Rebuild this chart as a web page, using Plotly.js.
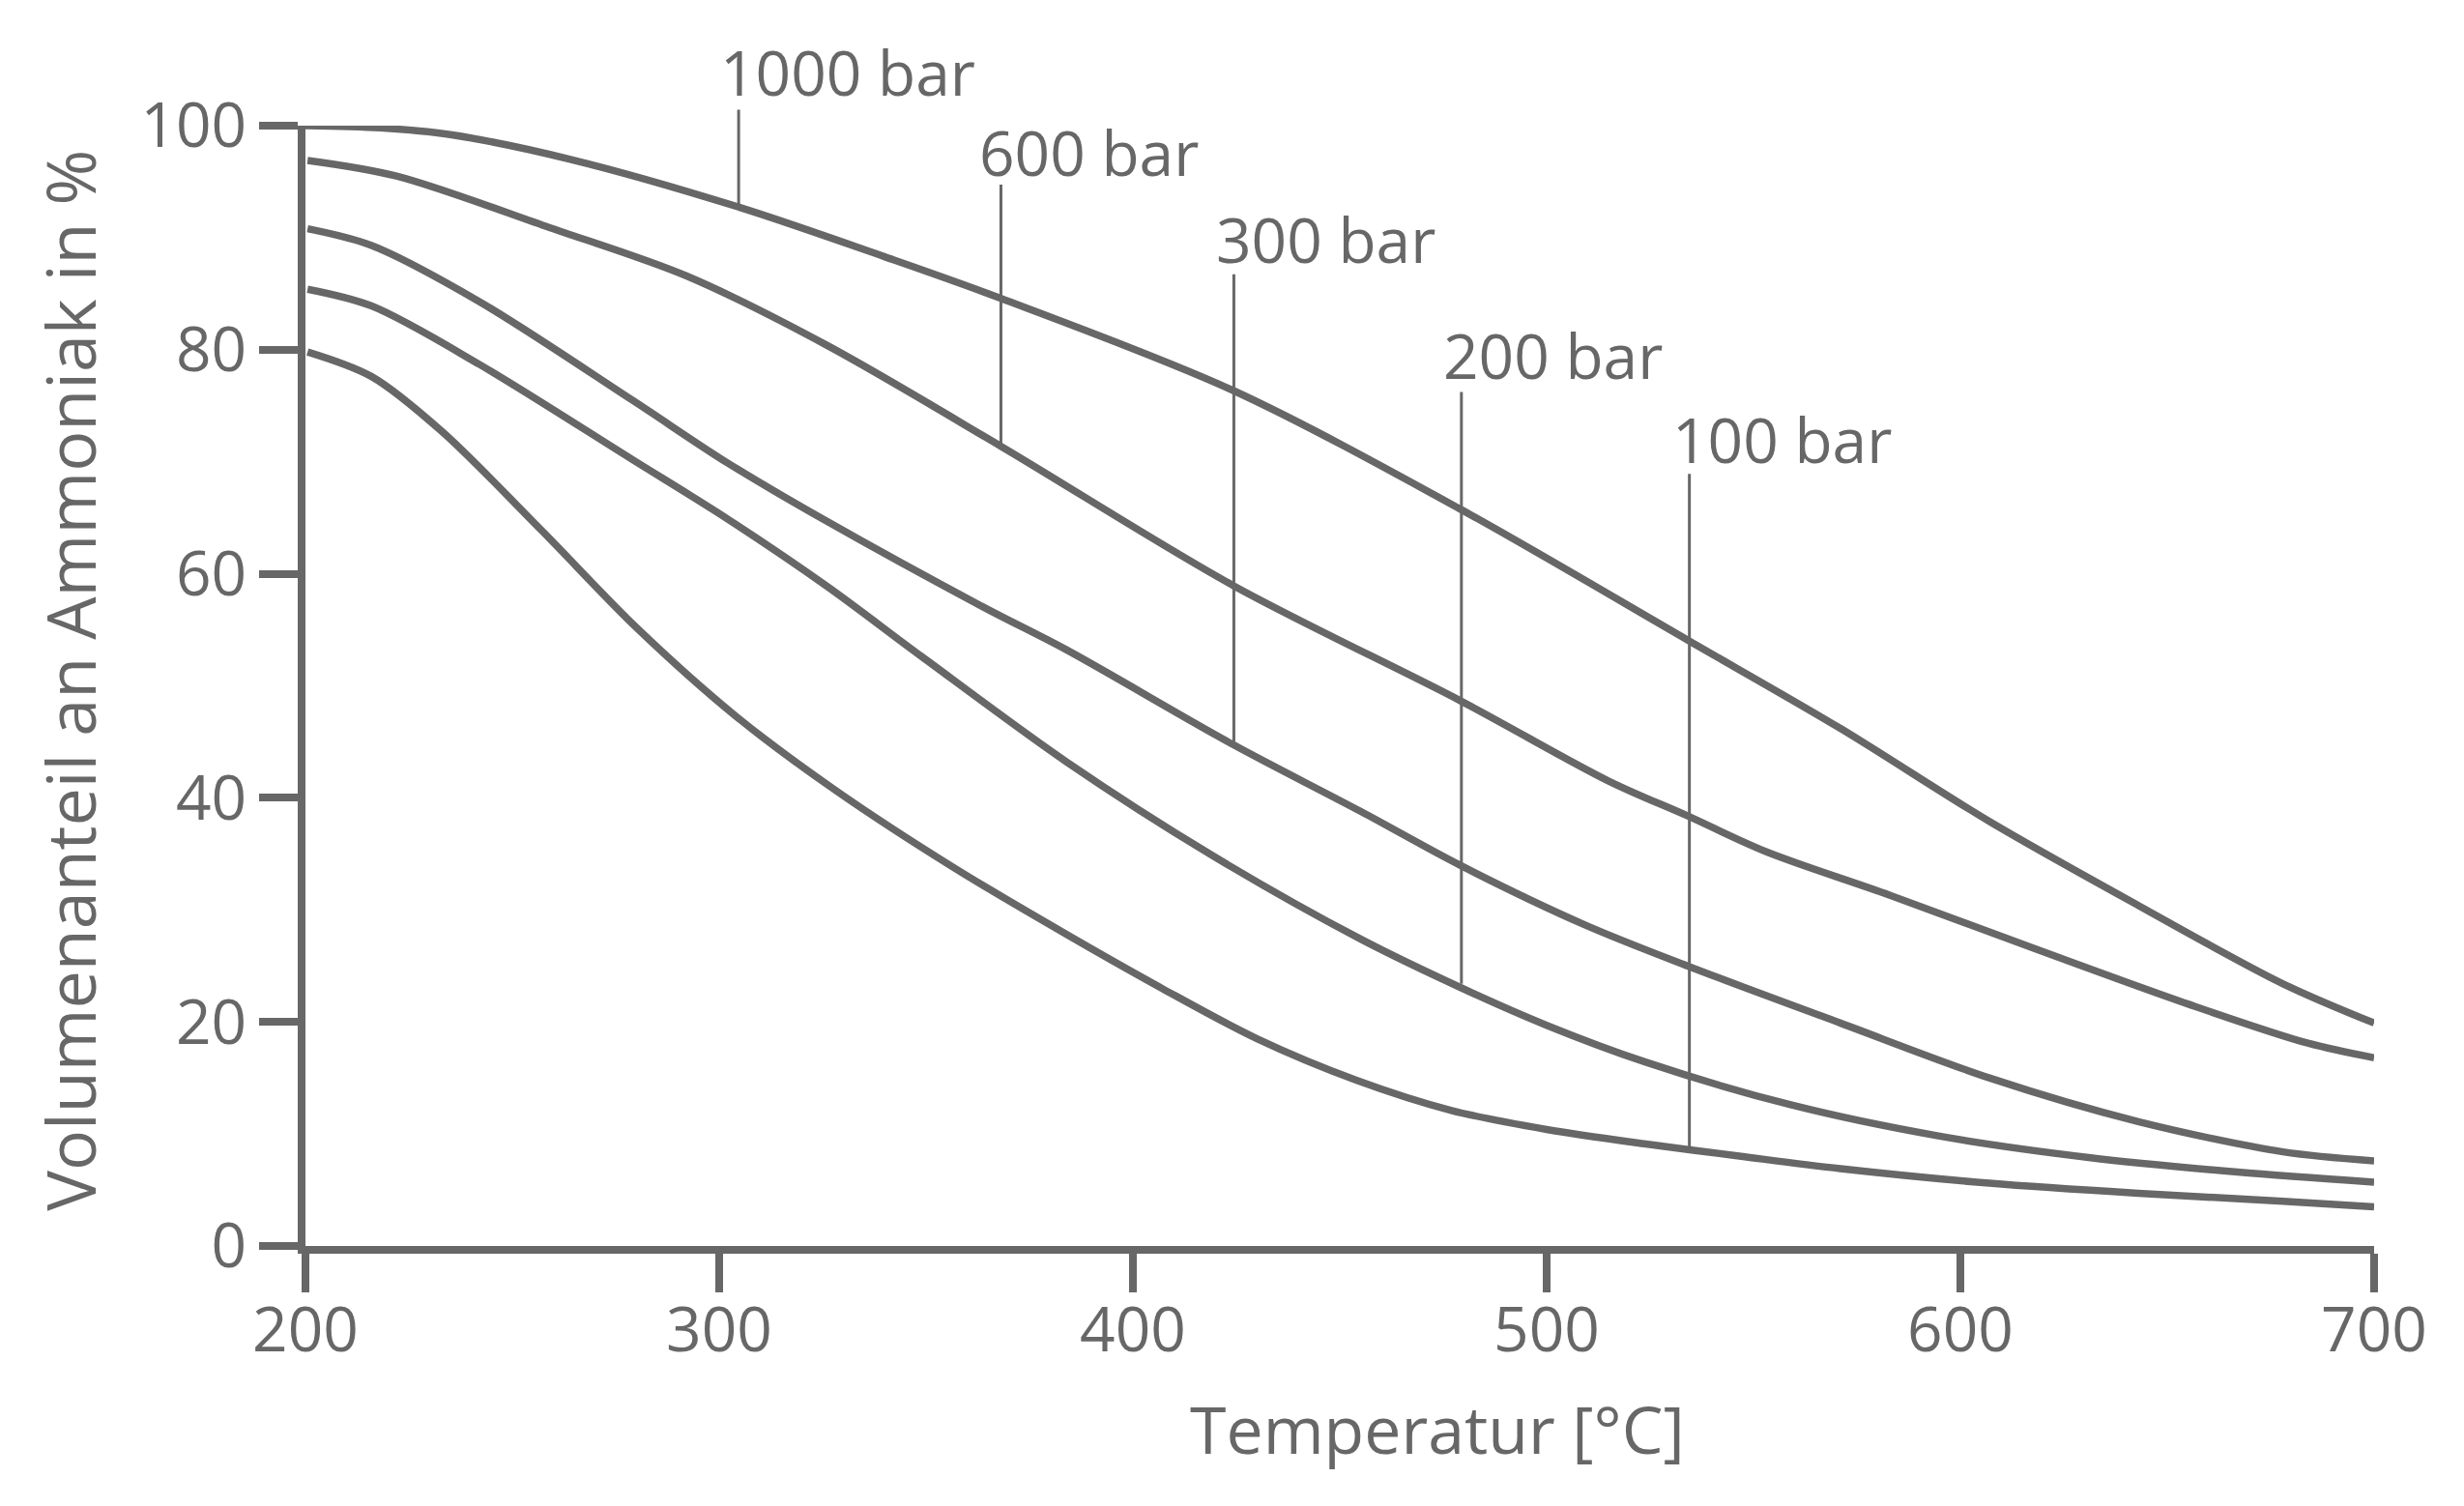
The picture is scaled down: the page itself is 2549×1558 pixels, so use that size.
<!DOCTYPE html>
<html>
<head>
<meta charset="utf-8">
<script src="https://cdn.plot.ly/plotly-3.0.1.min.js"></script>
<style>
  html, body { margin: 0; padding: 0; background: #fff; }
  #chart { width: 2549px; height: 1558px; }
</style>
</head>
<body>
<div id="chart"></div>
<script>
// Werte (Temperatur in °C, Volumenanteil NH3 in %)
const pressures = ['1000 bar', '600 bar', '300 bar', '200 bar', '100 bar'];

const t1000 = [200, 218, 235, 264, 305, 340, 368, 424, 479, 534, 571, 607, 643, 678, 700];
const v1000 = [100, 99.8, 99.2, 97.0, 92.7, 88.3, 84.6, 76.4, 65.8, 54.1, 46.2, 37.9, 30.4, 23.4, 19.9];

const t600 = [200.5, 222, 259, 292, 326, 368, 424, 479, 515, 534, 553, 583, 619, 655, 684, 700];
const v600 = [96.9, 95.5, 90.9, 86.6, 80.4, 71.4, 59.0, 48.7, 41.5, 38.4, 35.2, 31.3, 26.4, 21.6, 18.1, 16.8];

const t300 = [200.5, 216, 242, 279, 302, 325, 364, 384, 424, 455, 479, 509, 534, 571, 607, 643, 678, 700];
const v300 = [90.8, 89.3, 84.3, 75.5, 69.9, 64.9, 57.0, 53.2, 44.8, 38.8, 34.0, 28.7, 25.0, 19.9, 15.0, 11.1, 8.4, 7.6];

const t200 = [200.5, 216, 242, 279, 302, 326, 349, 384, 419, 455, 479, 500, 524, 559, 595, 631, 667, 700];
const v200 = [85.4, 83.9, 78.7, 70.2, 64.9, 58.9, 52.6, 43.2, 34.9, 27.4, 23.1, 19.7, 16.4, 12.6, 9.8, 7.9, 6.6, 5.7];

const t100 = [200.5, 216, 233, 257, 280, 304, 328, 357, 384, 407, 430, 454, 477, 500, 524, 547, 571, 607, 643, 678, 700];
const v100 = [79.8, 77.6, 72.7, 63.9, 55.2, 47.3, 40.7, 33.7, 27.8, 23.0, 18.5, 14.8, 12.1, 10.4, 9.1, 8.0, 6.9, 5.6, 4.7, 4.0, 3.5];

// Hinweislinien zu den Kurven
const leaderX = [304.7, 368.1, 424.4, 479.4, 534.5];
const leaderTop = [101.6, 94.9, 86.9, 76.4, 69.1];
const leaderBottom = [92.7, 71.4, 45.0, 23.4, 8.8];

// Beschriftungen (linke Kante, Mitte der Ziffern)
const labelX = [299.7, 362.3, 419.6, 474.5, 529.8];
const labelY = [104.8, 97.6, 89.9, 79.5, 72.0];

const xTicks = [200, 300, 400, 500, 600, 700];
const yTicks = [0, 20, 40, 60, 80, 100];

const X_MIN = 200, X_MAX = 700, Y_MAX = 100;
const GREY = '#676767';
const FONT = 'Open Sans, sans-serif';

const seriesT = [t1000, t600, t300, t200, t100];
const seriesV = [v1000, v600, v300, v200, v100];

const traces = pressures.map((name, i) => ({
  type: 'scatter',
  mode: 'lines',
  name,
  x: seriesT[i],
  y: seriesV[i],
  line: { color: GREY, width: 7.5, shape: 'spline', smoothing: 0.9 },
  hoverinfo: 'skip'
}));

const annotations = [];

// Hinweislinien als Pfeile ohne Spitze
leaderX.forEach((x, i) => {
  annotations.push({
    xref: 'x', yref: 'y', axref: 'x', ayref: 'y',
    x, y: leaderBottom[i],
    ax: x, ay: leaderTop[i],
    text: ' ', font: { size: 1 },
    showarrow: true, arrowhead: 0, arrowwidth: 3, arrowcolor: GREY,
    standoff: 0, startstandoff: 0
  });
});

// Druckangaben
pressures.forEach((p, i) => {
  annotations.push({
    xref: 'x', yref: 'paper',
    x: labelX[i], y: labelY[i] / Y_MAX,
    xanchor: 'left', yanchor: 'middle',
    text: p, showarrow: false,
    font: { family: FONT, size: 64, color: GREY }
  });
});

// Achsentitel
annotations.push({
  xref: 'paper', yref: 'paper', x: 0.547, y: -0.163,
  xanchor: 'center', yanchor: 'middle',
  text: 'Temperatur [°C]', showarrow: false,
  font: { family: FONT, size: 68, color: GREY }
});
annotations.push({
  xref: 'paper', yref: 'paper', x: -0.114, y: 0.505,
  xanchor: 'center', yanchor: 'middle', textangle: -90,
  text: 'Volumenanteil an Ammoniak in %', showarrow: false,
  font: { family: FONT, size: 70, color: GREY }
});

const axisCommon = {
  showgrid: false,
  zeroline: false,
  showline: true,
  linecolor: GREY,
  linewidth: 8,
  ticks: 'outside',
  ticklen: 40,
  tickwidth: 8,
  tickcolor: GREY,
  tickfont: { family: FONT, size: 64, color: GREY },
  fixedrange: true
};

const layout = {
  width: 2549,
  height: 1558,
  margin: { l: 316, r: 93, t: 130, b: 269, pad: 0 },
  paper_bgcolor: '#ffffff',
  plot_bgcolor: '#ffffff',
  showlegend: false,
  xaxis: {
    ...axisCommon,
    range: [X_MIN, X_MAX],
    tickmode: 'array',
    tickvals: xTicks,
    ticktext: xTicks.map(String),
    ticklabelstandoff: -16
  },
  yaxis: {
    ...axisCommon,
    range: [0, Y_MAX],
    tickmode: 'array',
    tickvals: yTicks,
    ticktext: yTicks.map(String)
  },
  annotations
};

Plotly.newPlot('chart', traces, layout, { displayModeBar: false, staticPlot: true });
</script>
</body>
</html>
